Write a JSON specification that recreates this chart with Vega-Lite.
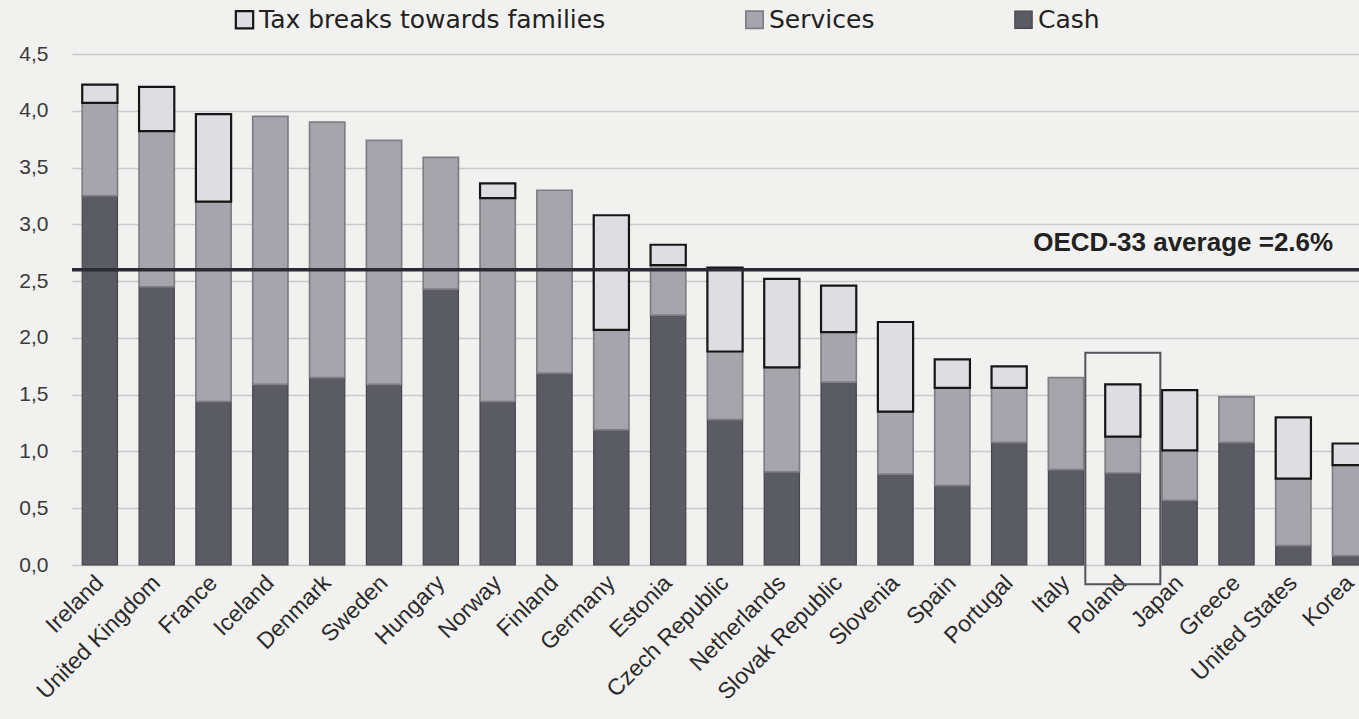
{
  "$schema": "https://vega.github.io/schema/vega-lite/v6.json",
  "autosize": {"type": "none"},
  "padding": {"left": 72, "top": 54, "right": 0, "bottom": 154},
  "width": 1306,
  "height": 511,
  "background": "#f1f1ef",
  "config": {
    "view": {"stroke": null},
    "font": "Liberation Sans"
  },
  "datasets": {
    "bars": [
      {"country": "Ireland", "type": "Cash", "value": 3.25},
      {"country": "Ireland", "type": "Services", "value": 0.82},
      {"country": "Ireland", "type": "Tax breaks towards families", "value": 0.16},
      {"country": "United Kingdom", "type": "Cash", "value": 2.45},
      {"country": "United Kingdom", "type": "Services", "value": 1.37},
      {"country": "United Kingdom", "type": "Tax breaks towards families", "value": 0.39},
      {"country": "France", "type": "Cash", "value": 1.44},
      {"country": "France", "type": "Services", "value": 1.76},
      {"country": "France", "type": "Tax breaks towards families", "value": 0.77},
      {"country": "Iceland", "type": "Cash", "value": 1.59},
      {"country": "Iceland", "type": "Services", "value": 2.36},
      {"country": "Denmark", "type": "Cash", "value": 1.65},
      {"country": "Denmark", "type": "Services", "value": 2.25},
      {"country": "Sweden", "type": "Cash", "value": 1.59},
      {"country": "Sweden", "type": "Services", "value": 2.15},
      {"country": "Hungary", "type": "Cash", "value": 2.43},
      {"country": "Hungary", "type": "Services", "value": 1.16},
      {"country": "Norway", "type": "Cash", "value": 1.44},
      {"country": "Norway", "type": "Services", "value": 1.79},
      {"country": "Norway", "type": "Tax breaks towards families", "value": 0.13},
      {"country": "Finland", "type": "Cash", "value": 1.69},
      {"country": "Finland", "type": "Services", "value": 1.61},
      {"country": "Germany", "type": "Cash", "value": 1.19},
      {"country": "Germany", "type": "Services", "value": 0.88},
      {"country": "Germany", "type": "Tax breaks towards families", "value": 1.01},
      {"country": "Estonia", "type": "Cash", "value": 2.2},
      {"country": "Estonia", "type": "Services", "value": 0.44},
      {"country": "Estonia", "type": "Tax breaks towards families", "value": 0.18},
      {"country": "Czech Republic", "type": "Cash", "value": 1.28},
      {"country": "Czech Republic", "type": "Services", "value": 0.6},
      {"country": "Czech Republic", "type": "Tax breaks towards families", "value": 0.74},
      {"country": "Netherlands", "type": "Cash", "value": 0.82},
      {"country": "Netherlands", "type": "Services", "value": 0.92},
      {"country": "Netherlands", "type": "Tax breaks towards families", "value": 0.78},
      {"country": "Slovak Republic", "type": "Cash", "value": 1.61},
      {"country": "Slovak Republic", "type": "Services", "value": 0.44},
      {"country": "Slovak Republic", "type": "Tax breaks towards families", "value": 0.41},
      {"country": "Slovenia", "type": "Cash", "value": 0.8},
      {"country": "Slovenia", "type": "Services", "value": 0.55},
      {"country": "Slovenia", "type": "Tax breaks towards families", "value": 0.79},
      {"country": "Spain", "type": "Cash", "value": 0.7},
      {"country": "Spain", "type": "Services", "value": 0.86},
      {"country": "Spain", "type": "Tax breaks towards families", "value": 0.25},
      {"country": "Portugal", "type": "Cash", "value": 1.08},
      {"country": "Portugal", "type": "Services", "value": 0.48},
      {"country": "Portugal", "type": "Tax breaks towards families", "value": 0.19},
      {"country": "Italy", "type": "Cash", "value": 0.84},
      {"country": "Italy", "type": "Services", "value": 0.81},
      {"country": "Poland", "type": "Cash", "value": 0.81},
      {"country": "Poland", "type": "Services", "value": 0.32},
      {"country": "Poland", "type": "Tax breaks towards families", "value": 0.46},
      {"country": "Japan", "type": "Cash", "value": 0.57},
      {"country": "Japan", "type": "Services", "value": 0.44},
      {"country": "Japan", "type": "Tax breaks towards families", "value": 0.53},
      {"country": "Greece", "type": "Cash", "value": 1.08},
      {"country": "Greece", "type": "Services", "value": 0.4},
      {"country": "United States", "type": "Cash", "value": 0.17},
      {"country": "United States", "type": "Services", "value": 0.59},
      {"country": "United States", "type": "Tax breaks towards families", "value": 0.54},
      {"country": "Korea", "type": "Cash", "value": 0.08},
      {"country": "Korea", "type": "Services", "value": 0.8},
      {"country": "Korea", "type": "Tax breaks towards families", "value": 0.19}
    ]
  },
  "layer": [
    {
      "data": {"name": "bars"},
      "mark": {"type": "bar"},
      "encoding": {
        "x": {
          "field": "country",
          "type": "nominal",
          "scale": {
            "domain": ["Ireland", "United Kingdom", "France", "Iceland", "Denmark", "Sweden", "Hungary", "Norway", "Finland", "Germany", "Estonia", "Czech Republic", "Netherlands", "Slovak Republic", "Slovenia", "Spain", "Portugal", "Italy", "Poland", "Japan", "Greece", "United States", "Korea"],
            "paddingInner": 0.38,
            "paddingOuter": 0.18
          },
          "axis": {
            "title": null,
            "labelAngle": -45,
            "labelAlign": "right",
            "labelBaseline": "middle",
            "labelFontSize": 23,
            "labelColor": "#2a2a2a",
            "labelPadding": 14,
            "labelOverlap": false,
            "labelLimit": 300,
            "domain": false,
            "ticks": false
          }
        },
        "y": {
          "field": "value",
          "type": "quantitative",
          "stack": "zero",
          "scale": {"domain": [0, 4.5], "nice": false},
          "axis": {
            "title": null,
            "values": [0, 0.5, 1, 1.5, 2, 2.5, 3, 3.5, 4, 4.5],
            "labelExpr": "replace(format(datum.value, '.1f'), '.', ',')",
            "labelFontSize": 21,
            "labelColor": "#3a3a3a",
            "labelPadding": 24,
            "gridColor": "#c9c9c9",
            "gridWidth": 1.5,
            "domain": false,
            "ticks": false
          }
        },
        "order": {"field": "type", "sort": "ascending"},
        "color": {
          "field": "type",
          "type": "nominal",
          "scale": {
            "domain": ["Tax breaks towards families", "Services", "Cash"],
            "range": ["#dedee2", "#a5a5ab", "#5b5b63"]
          },
          "legend": {
            "title": null,
            "orient": "none",
            "legendX": 160,
            "legendY": -47,
            "direction": "horizontal",
            "symbolType": "square",
            "symbolSize": 300,
            "labelFont": "DejaVu Sans",
            "labelFontSize": 25,
            "labelLimit": 500,
            "labelColor": "#222222",
            "labelOffset": 2,
            "columnPadding": 136
          }
        },
        "stroke": {
          "field": "type",
          "type": "nominal",
          "scale": {
            "domain": ["Tax breaks towards families", "Services", "Cash"],
            "range": ["#161616", "#7e7e84", "#45454c"]
          },
          "legend": {
            "title": null,
            "orient": "none",
            "legendX": 160,
            "legendY": -47,
            "direction": "horizontal",
            "symbolType": "square",
            "symbolSize": 300,
            "labelFont": "DejaVu Sans",
            "labelFontSize": 25,
            "labelLimit": 500,
            "labelColor": "#222222",
            "labelOffset": 2,
            "columnPadding": 136
          }
        },
        "strokeWidth": {
          "field": "type",
          "type": "nominal",
          "scale": {
            "domain": ["Tax breaks towards families", "Services", "Cash"],
            "range": [2.2, 1.2, 1.2]
          },
          "legend": {
            "title": null,
            "orient": "none",
            "legendX": 160,
            "legendY": -47,
            "direction": "horizontal",
            "symbolType": "square",
            "symbolSize": 300,
            "labelFont": "DejaVu Sans",
            "labelFontSize": 25,
            "labelLimit": 500,
            "labelColor": "#222222",
            "labelOffset": 2,
            "columnPadding": 136
          }
        }
      }
    },
    {
      "data": {"values": [{"country": "Poland", "top": 1.87, "bottom": -0.17}]},
      "mark": {"type": "bar", "filled": false, "width": 75, "stroke": "#55555c", "strokeWidth": 2, "clip": false},
      "encoding": {
        "x": {"field": "country", "type": "nominal"},
        "y": {"field": "top", "type": "quantitative"},
        "y2": {"field": "bottom"}
      }
    },
    {
      "data": {"values": [{"avg": 2.6}]},
      "mark": {"type": "rule", "color": "#2b2b33", "strokeWidth": 3.5},
      "encoding": {"y": {"field": "avg", "type": "quantitative"}}
    },
    {
      "data": {"values": [{"country": "Korea", "avg": 2.6, "label": "OECD-33 average =2.6%"}]},
      "mark": {"type": "text", "align": "right", "baseline": "alphabetic", "dx": -17, "dy": -19, "fontSize": 26, "fontWeight": "bold", "color": "#222222"},
      "encoding": {
        "x": {"field": "country", "type": "nominal"},
        "y": {"field": "avg", "type": "quantitative"},
        "text": {"field": "label"}
      }
    }
  ]
}
